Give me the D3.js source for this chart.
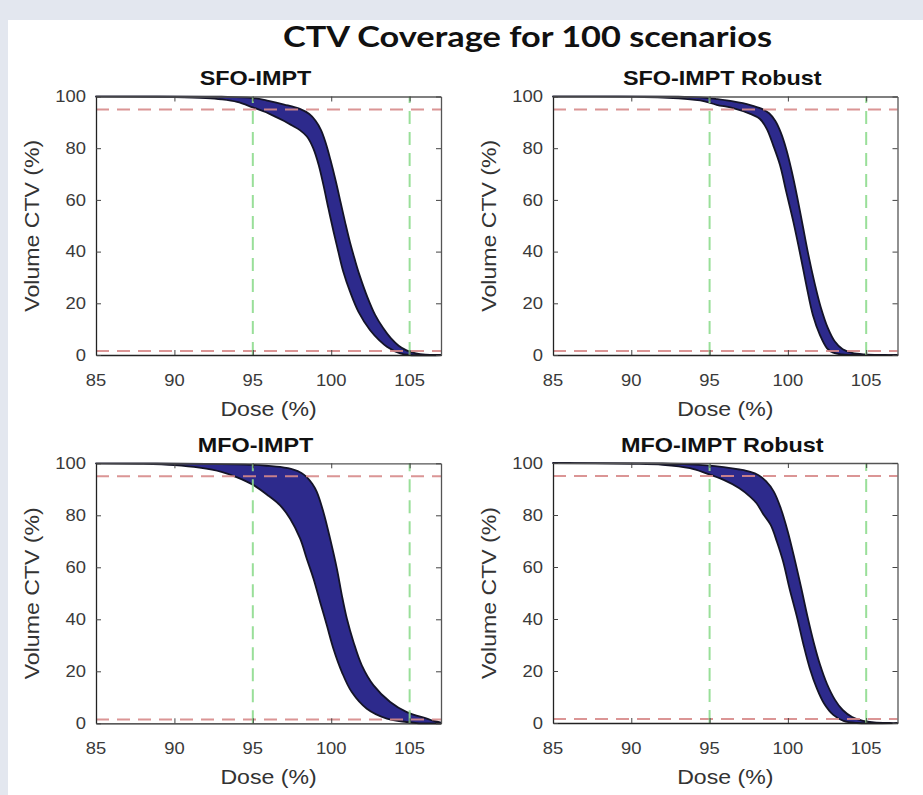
<!DOCTYPE html>
<html>
  <head>
    <meta charset="utf-8">
    <title>CTV Coverage</title>
    <script src="https://cdn.jsdelivr.net/npm/d3@7/dist/d3.min.js"></script>
    <style>
      body { margin: 0; background: #e3e7ef; }
      svg { display: block; }
    </style>
  </head>
  <body>
    <svg id="chart" width="923" height="795"></svg>
    <script>
      // data: [dose %, volume %]
      var doseTicks = [85, 90, 95, 100, 105];
      var volumeTicks = [0, 20, 40, 60, 80, 100];
      var doseLimits = [95, 105];
      var volumeLimits = [1.5, 95];
      var panelTitles = ["SFO-IMPT", "SFO-IMPT Robust", "MFO-IMPT", "MFO-IMPT Robust"];

      var sfoLower = [[85,100],[90,99.8],[92,99.4],[93,98.9],[94,97.9],[95,95.8],[96,93.5],[97,90.5],[97.5,88.8],[98,87],[98.45,84.5],[98.85,80],[99.2,73.5],[99.5,65.8],[99.82,56.7],[100.15,47.7],[100.45,40],[100.77,32.2],[101.2,24.5],[101.73,16.8],[102.47,9.7],[103.1,5.5],[103.55,3.2],[104.4,0.6],[105,0],[107,0]];
      var sfoUpper = [[85,100],[93,99.9],[95,99.4],[96,98.3],[97,96.9],[98,95.2],[98.6,93.2],[99,90.6],[99.35,87],[99.65,82],[99.95,75.5],[100.3,67],[100.6,59],[100.9,51],[101.2,43.5],[101.5,37],[101.8,31],[102.3,22.5],[102.8,15.5],[103.3,10.5],[103.8,6.5],[104.3,3.6],[104.8,1.8],[105.4,0.6],[106,0.1],[107,0]];

      var sfoRobLower = [[85,100],[90,99.9],[92,99.6],[94.4,98.5],[95.45,96.8],[96.5,95.5],[97.6,93.3],[98.2,91.4],[98.65,87.5],[99.07,81],[99.5,73.4],[99.9,63],[100.35,51.5],[100.8,38.6],[101.2,26.4],[101.6,15.4],[102.05,7.7],[102.5,2.6],[102.9,0.9],[103.5,0.2],[104.6,0],[107,0]];
      var sfoRobUpper = [[85,100],[93,99.9],[94.4,99.7],[95.45,99],[96.5,98.1],[97.6,96.7],[98.3,95.3],[98.8,93.5],[99.2,90.5],[99.55,86],[99.9,79.5],[100.25,71],[100.6,61],[100.95,50],[101.3,39],[101.7,28],[102.1,18.5],[102.55,10.5],[103,5.2],[103.5,2.2],[104.1,0.8],[104.9,0.2],[106,0],[107,0]];

      var mfoLower = [[85,100],[88,99.8],[90,99.3],[91.6,98.3],[93,96.7],[94,94.6],[95,91.8],[96,87.5],[96.74,83.8],[97.38,78.7],[98.02,71],[98.44,63.3],[98.87,55.6],[99.29,46.7],[99.72,37.7],[100.14,28.7],[100.68,19.7],[101.31,12],[102.27,5.6],[103.55,1.8],[104.8,0.5],[105.6,0],[107,0]];
      var mfoUpper = [[85,100],[92,99.8],[95,99.4],[96,99],[96.74,98.6],[97.59,97.6],[98.1,96.3],[98.44,94.7],[98.8,92],[99.08,89],[99.5,81.3],[99.93,71],[100.36,59.5],[100.68,49.2],[101,40.2],[101.42,31.3],[101.95,22.3],[102.7,14.6],[103.76,8.2],[104.82,4.3],[106.1,1.8],[106.6,0.8],[107,0.3]];

      var mfoRobLower = [[85,100],[90,99.7],[92,99.3],[93.75,98],[94.8,96],[95.9,93.5],[96.9,90.3],[97.6,87],[98,84.5],[98.4,80.6],[98.9,76.2],[99.3,69.7],[99.7,62],[100.1,51.8],[100.6,40.3],[101,30],[101.4,21],[101.85,13.3],[102.3,7.6],[102.9,3.1],[103.55,0.8],[104.4,0],[107,0]];
      var mfoRobUpper = [[85,100],[92,99.8],[93.75,99.5],[94.8,99.1],[95.9,98.4],[96.9,97.5],[97.6,96.6],[98.1,95.4],[98.6,93],[99.1,89],[99.55,82.5],[100,73.5],[100.45,62.5],[100.85,52],[101.25,41],[101.65,31],[102.05,22.5],[102.5,15],[103,9],[103.5,5],[104.1,2.3],[104.8,0.8],[105.5,0.2],[106.5,0],[107,0]];

      var bands = [
        {lower: sfoLower, upper: sfoUpper},
        {lower: sfoRobLower, upper: sfoRobUpper},
        {lower: mfoLower, upper: mfoUpper},
        {lower: mfoRobLower, upper: mfoRobUpper}
      ];

      // panel boxes in page pixels
      var boxes = [
        {left: 96, right: 441, top: 96.5, bottom: 355, titleShift: -13},
        {left: 553, right: 897.5, top: 96.5, bottom: 355, titleShift: -3},
        {left: 96, right: 441, top: 463.3, bottom: 723.3, titleShift: -13},
        {left: 553, right: 897.5, top: 463, bottom: 723, titleShift: -3}
      ];

      var svg = d3.select("#chart");
      var font = "'Liberation Sans', Arial, sans-serif";

      svg.append("rect").attr("width", 923).attr("height", 795).attr("fill", "#e3e7ef");
      svg.append("rect").attr("x", 8).attr("y", 20).attr("width", 915).attr("height", 775).attr("fill", "#ffffff");

      svg.append("text")
        .attr("x", 283).attr("y", 47)
        .attr("textLength", 489).attr("lengthAdjust", "spacingAndGlyphs")
        .style("font-family", "Lato, 'Open Sans', sans-serif")
        .style("font-weight", "bold").style("font-size", "29px")
        .attr("fill", "#111")
        .text("CTV Coverage for 100 scenarios");

      // text with a slight horizontal stretch, like the picture
      function label(g, x, y, str, size, opts) {
        opts = opts || {};
        return g.append("text")
          .attr("transform", "translate(" + x + "," + y + ")" + (opts.rotate ? " rotate(" + opts.rotate + ")" : "") + " scale(" + (opts.stretch || 1.12) + ",1)")
          .attr("text-anchor", opts.anchor || "middle")
          .attr("dy", opts.dy || 0)
          .style("font-family", font)
          .style("font-size", size + "px")
          .style("font-weight", opts.bold ? "bold" : "normal")
          .attr("fill", opts.color || "#333")
          .text(str);
      }

      boxes.forEach(function(b, i) {
        var x = d3.scaleLinear().domain([85, 107]).range([b.left, b.right]);
        var y = d3.scaleLinear().domain([0, 100]).range([b.bottom, b.top]);
        var g = svg.append("g");

        // band between best and worst scenario
        var line = d3.line().x(function(d) { return x(d[0]); }).y(function(d) { return y(d[1]); })
          .curve(d3.curveCatmullRom.alpha(0.5));
        var up = bands[i].upper.slice().reverse();
        var d = line(bands[i].lower) + "L" + line(up).slice(1) + "Z";
        g.append("path").attr("d", d)
          .attr("fill", "#2d2a8c").attr("stroke", "#141428").attr("stroke-width", 1.8)
          .attr("stroke-linejoin", "round");

        // limit lines
        volumeLimits.forEach(function(v) {
          g.append("line")
            .attr("x1", x(85)).attr("x2", x(107)).attr("y1", y(v)).attr("y2", y(v))
            .attr("stroke", "#d88a8a").attr("stroke-width", 2).attr("stroke-dasharray", "13,8")
            .attr("opacity", 0.9);
        });
        doseLimits.forEach(function(v) {
          g.append("line")
            .attr("x1", x(v)).attr("x2", x(v)).attr("y1", y(0)).attr("y2", y(100))
            .attr("stroke", "#8fdc8f").attr("stroke-width", 2).attr("stroke-dasharray", "13,8")
            .attr("opacity", 0.9);
        });

        // axes, ticks inward on all four sides
        var ax = [
          d3.axisBottom(x).tickValues(doseTicks).tickSizeInner(-5).tickSizeOuter(0).tickFormat(""),
          d3.axisTop(x).tickValues(doseTicks).tickSizeInner(-5).tickSizeOuter(0).tickFormat(""),
          d3.axisLeft(y).tickValues(volumeTicks).tickSizeInner(-5).tickSizeOuter(0).tickFormat(""),
          d3.axisRight(y).tickValues(volumeTicks).tickSizeInner(-5).tickSizeOuter(0).tickFormat("")
        ];
        var pos = [
          "translate(0," + b.bottom + ")", "translate(0," + b.top + ")",
          "translate(" + b.left + ",0)", "translate(" + b.right + ",0)"
        ];
        ax.forEach(function(a, k) {
          var ag = g.append("g").attr("transform", pos[k]).call(a);
          ag.selectAll("line").attr("stroke", "#444");
          ag.select(".domain").attr("stroke", k === 0 || k === 2 ? "#222" : "#555").attr("stroke-width", 1.3);
        });

        doseTicks.forEach(function(t) {
          label(g, x(t), b.bottom + 31, String(t), 16, {stretch: 1.15, color: "#3a3a3a"});
        });
        volumeTicks.forEach(function(t) {
          label(g, b.left - 10, y(t), String(t), 16, {stretch: 1.15, anchor: "end", dy: "0.36em", color: "#3a3a3a"});
        });

        label(g, (b.left + b.right) / 2, b.bottom + 61, "Dose (%)", 21, {stretch: 1.1});
        label(g, b.left - 57.5, (b.top + b.bottom) / 2, "Volume CTV (%)", 21, {rotate: -90, stretch: 1.1});
        label(g, (b.left + b.right) / 2 + b.titleShift, b.top - 11.5, panelTitles[i], 19.5, {bold: true, stretch: 1.2, color: "#111"});
      });
    </script>
  </body>
</html>
